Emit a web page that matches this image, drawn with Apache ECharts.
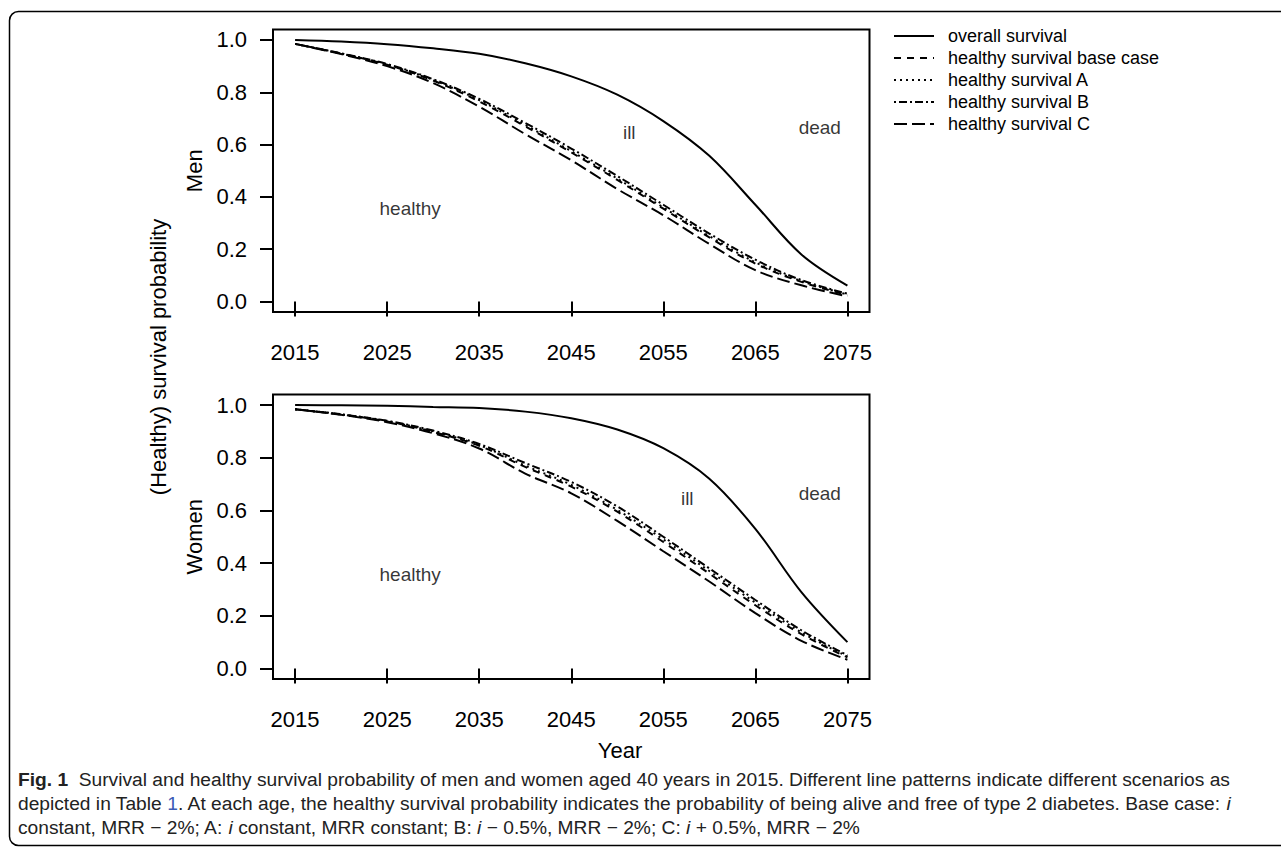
<!DOCTYPE html>
<html>
<head>
<meta charset="utf-8">
<script src="https://cdn.jsdelivr.net/npm/echarts@6/dist/echarts.min.js"></script>
<style>
  html, body { margin: 0; padding: 0; background: #fff; }
  #chart { width: 1281px; height: 850px; }
</style>
</head>
<body>
<div id="chart"></div>
<script>
// years on the x axis
const years = [2015, 2020, 2025, 2030, 2035, 2040, 2045, 2050, 2055, 2060, 2065, 2070, 2075];
const xTicks = [2015, 2025, 2035, 2045, 2055, 2065, 2075];
const yTicks = [0, 0.2, 0.4, 0.6, 0.8, 1.0];

// men
const menOverall = [1.0, 0.994, 0.984, 0.968, 0.947, 0.911, 0.861, 0.791, 0.69, 0.557, 0.37, 0.18, 0.061];
const menBase = [0.985, 0.948, 0.905, 0.845, 0.765, 0.67, 0.57, 0.465, 0.355, 0.245, 0.145, 0.075, 0.025];
const menA = [0.985, 0.948, 0.906, 0.847, 0.77, 0.675, 0.575, 0.47, 0.36, 0.25, 0.15, 0.078, 0.027];
const menB = [0.985, 0.949, 0.908, 0.85, 0.775, 0.683, 0.585, 0.48, 0.37, 0.26, 0.16, 0.082, 0.03];
const menC = [0.985, 0.946, 0.9, 0.835, 0.745, 0.64, 0.54, 0.43, 0.33, 0.22, 0.12, 0.062, 0.02];

// women
const womenOverall = [1.0, 0.999, 0.997, 0.993, 0.989, 0.975, 0.95, 0.907, 0.836, 0.72, 0.53, 0.29, 0.10];
const womenBase = [0.984, 0.964, 0.938, 0.898, 0.845, 0.765, 0.69, 0.595, 0.48, 0.36, 0.24, 0.13, 0.042];
const womenA = [0.984, 0.964, 0.939, 0.9, 0.848, 0.77, 0.697, 0.602, 0.49, 0.37, 0.25, 0.137, 0.045];
const womenB = [0.984, 0.965, 0.94, 0.903, 0.852, 0.78, 0.708, 0.615, 0.5, 0.38, 0.26, 0.145, 0.05];
const womenC = [0.984, 0.963, 0.935, 0.893, 0.835, 0.74, 0.665, 0.56, 0.445, 0.33, 0.21, 0.105, 0.033];

// region labels [year, value, text]
const menRegions = [[2027.5, 0.354, "healthy"], [2051.3, 0.646, "ill"], [2072.0, 0.665, "dead"]];
const womenRegions = [[2027.5, 0.355, "healthy"], [2057.6, 0.646, "ill"], [2072.0, 0.665, "dead"]];

const seriesNames = ["overall survival", "healthy survival base case", "healthy survival A", "healthy survival B", "healthy survival C"];
const dashes = ["solid", [7, 6], [2, 4], [2, 3, 8, 3], [13, 5]];

const chart = echarts.init(document.getElementById("chart"), null, { renderer: "svg" });

const font = "'Liberation Sans', Arial, sans-serif";

function pairs(vals) {
    return years.map((y, i) => [y, vals[i]]);
}

function lineSeries(idx, vals, name) {
    return {
        name,
        type: "line",
        xAxisIndex: idx,
        yAxisIndex: idx,
        data: pairs(vals),
        smooth: 0.35,
        symbol: "none",
        silent: true,
        lineStyle: { color: "#000", width: 2, type: dashes[seriesNames.indexOf(name)] },
        itemStyle: { color: "#000" }
    };
}

function regionSeries(idx, items) {
    return {
        type: "scatter",
        xAxisIndex: idx,
        yAxisIndex: idx,
        symbolSize: 1,
        silent: true,
        itemStyle: { color: "rgba(0,0,0,0)" },
        data: items.map((d) => ({ value: [d[0], d[1]], label: { formatter: d[2] } })),
        label: {
            show: true,
            position: "inside",
            color: "#000",
            fontFamily: font,
            fontSize: 19
        }
    };
}

function xAxis(idx) {
    return {
        type: "value",
        gridIndex: idx,
        min: 2012.6,
        max: 2077.4,
        axisLine: { show: false },
        splitLine: { show: false },
        axisTick: { show: true, inside: false, length: 15, lineStyle: { color: "#000", width: 2 }, customValues: xTicks },
        axisLabel: {
            customValues: xTicks,
            margin: 29,
            color: "#000",
            fontFamily: font,
            fontSize: 22,
            formatter: (v) => String(v)
        }
    };
}

function yAxis(idx, name) {
    return {
        type: "value",
        gridIndex: idx,
        min: -0.04,
        max: 1.04,
        name,
        nameLocation: "middle",
        nameGap: 68,
        nameTextStyle: { color: "#000", fontFamily: font, fontSize: 22 },
        axisLine: { show: false },
        splitLine: { show: false },
        axisTick: { show: true, inside: false, length: 13, lineStyle: { color: "#000", width: 2 }, customValues: yTicks },
        axisLabel: {
            customValues: yTicks,
            margin: 26,
            color: "#000",
            fontFamily: font,
            fontSize: 22,
            formatter: (v) => v.toFixed(1)
        }
    };
}

const gridBox = { show: true, borderColor: "#000", borderWidth: 2, backgroundColor: "transparent" };

const series = [];
[menOverall, menBase, menA, menB, menC].forEach((v, i) => series.push(lineSeries(0, v, seriesNames[i])));
[womenOverall, womenBase, womenA, womenB, womenC].forEach((v, i) => series.push(lineSeries(1, v, seriesNames[i])));
series.push(regionSeries(0, menRegions));
series.push(regionSeries(1, womenRegions));

const capStyle = {
    fill: "#222",
    fontFamily: font,
    fontSize: 19.2,
    rich: {
        b: { fontFamily: font, fontSize: 19.2, fontWeight: "bold", fill: "#222" },
        it: { fontFamily: font, fontSize: 19.2, fontStyle: "italic", fill: "#222" },
        lk: { fontFamily: font, fontSize: 19.2, fill: "#3b5bb5" }
    }
};

chart.setOption({
    animation: false,
    backgroundColor: "#fff",
    grid: [
        Object.assign({ left: 273, top: 29.5, width: 596.5, height: 282.5 }, gridBox),
        Object.assign({ left: 273, top: 394.5, width: 596.5, height: 284.5 }, gridBox)
    ],
    xAxis: [xAxis(0), xAxis(1)],
    yAxis: [yAxis(0, "Men"), yAxis(1, "Women")],
    legend: {
        data: seriesNames,
        orient: "vertical",
        left: 893,
        top: 27,
        padding: 0,
        itemWidth: 40,
        itemHeight: 14,
        itemGap: 4,
        selectedMode: false,
        itemStyle: { color: "rgba(0,0,0,0)", borderColor: "rgba(0,0,0,0)", borderWidth: 0, opacity: 0 },
        textStyle: { color: "#000", fontFamily: font, fontSize: 18, padding: [0, 0, 0, 9] }
    },
    series,
    graphic: [
        {
            type: "rect",
            shape: { x: 9.5, y: 11.5, width: 1300, height: 834, r: 9 },
            style: { fill: "none", stroke: "#000", lineWidth: 1.5 },
            silent: true
        },
        {
            type: "text",
            x: 158,
            y: 357,
            rotation: Math.PI / 2,
            style: { text: "(Healthy) survival probability", fill: "#000", font: "22px " + font, textAlign: "center", textVerticalAlign: "middle" }
        },
        {
            type: "text",
            x: 620,
            y: 750,
            style: { text: "Year", fill: "#000", font: "22px " + font, textAlign: "center", textVerticalAlign: "middle" }
        },
        {
            type: "text",
            x: 18,
            y: 779,
            style: Object.assign({
                text: "{b|Fig. 1}  Survival and healthy survival probability of men and women aged 40 years in 2015. Different line patterns indicate different scenarios as",
                textVerticalAlign: "middle"
            }, capStyle)
        },
        {
            type: "text",
            x: 18,
            y: 803,
            style: Object.assign({
                text: "depicted in Table {lk|1}. At each age, the healthy survival probability indicates the probability of being alive and free of type 2 diabetes. Base case: {it|i}",
                textVerticalAlign: "middle"
            }, capStyle)
        },
        {
            type: "text",
            x: 18,
            y: 827,
            style: Object.assign({
                text: "constant, MRR \u2212 2%; A: {it|i} constant, MRR constant; B: {it|i} \u2212 0.5%, MRR \u2212 2%; C: {it|i} + 0.5%, MRR \u2212 2%",
                textVerticalAlign: "middle"
            }, capStyle)
        }
    ]
});
</script>
</body>
</html>
